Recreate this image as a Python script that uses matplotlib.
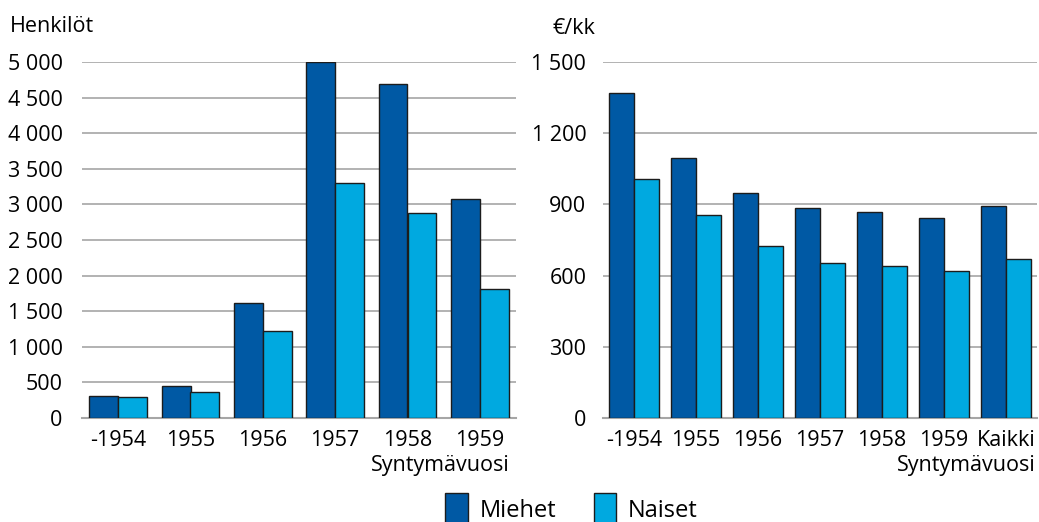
import numpy as np
import matplotlib
matplotlib.use("Agg")
import matplotlib.pyplot as plt
from matplotlib.ticker import FuncFormatter

plt.rcParams['font.family'] = ['Open Sans', 'DejaVu Sans']

# Henkilöt syntymävuosittain
vuodet_vasen = ["-1954", "1955", "1956", "1957", "1958", "1959"]
miehet_lkm = [305, 445, 1620, 4995, 4695, 3072]
naiset_lkm = [290, 370, 1218, 3305, 2875, 1808]

# Keskimääräinen eläke €/kk
vuodet_oikea = ["-1954", "1955", "1956", "1957", "1958", "1959", "Kaikki"]
miehet_eur = [1371, 1094, 946, 886, 870, 843, 894]
naiset_eur = [1005, 855, 724, 652, 639, 619, 671]

vasen_ticks = [0, 500, 1000, 1500, 2000, 2500, 3000, 3500, 4000, 4500, 5000]
oikea_ticks = [0, 300, 600, 900, 1200, 1500]

sininen = "#0059A4"
vaalea = "#00A9E0"
reuna = "#1c1c1c"
harmaa = "#a6a6a6"


def tuhat(x, pos):
    return f"{int(x):,}".replace(",", " ")


fig = plt.figure(figsize=(10.39, 5.22), dpi=100)
ax1 = fig.add_axes([82 / 1039, 104 / 522, 434 / 1039, 356 / 522])
ax2 = fig.add_axes([603 / 1039, 104 / 522, 434 / 1039, 356 / 522])


def piirra(ax, kat, m, n, ticks, pad_y):
    x = np.arange(len(kat))
    w = 0.4
    ax.bar(x - w / 2, m, w, color=sininen, edgecolor=reuna, linewidth=1, zorder=3, label="Miehet")
    ax.bar(x + w / 2, n, w, color=vaalea, edgecolor=reuna, linewidth=1, zorder=3, label="Naiset")
    ax.set_xlim(-0.5, len(kat) - 0.5)
    ax.set_ylim(0, ticks[-1])
    ax.set_yticks(ticks)
    ax.yaxis.set_major_formatter(FuncFormatter(tuhat))
    ax.set_xticks(x)
    ax.set_xticklabels(kat)
    ax.grid(axis="y", color=harmaa, linewidth=1.2, zorder=0)
    for s in ["top", "right", "left"]:
        ax.spines[s].set_visible(False)
    ax.spines["bottom"].set_color(harmaa)
    ax.spines["bottom"].set_linewidth(1.5)
    ax.tick_params(axis="both", length=0, labelsize=15.5, colors="#000000")
    ax.tick_params(axis="y", pad=pad_y)
    ax.tick_params(axis="x", pad=9)
    ax.set_axisbelow(True)


piirra(ax1, vuodet_vasen, miehet_lkm, naiset_lkm, vasen_ticks, 14)
piirra(ax2, vuodet_oikea, miehet_eur, naiset_eur, oikea_ticks, 12)

fig.text(10 / 1039, 1 - 26 / 522, "Henkilöt", fontsize=15.5, va="center", ha="left")
fig.text(574 / 1039, 1 - 28 / 522, "€/kk", fontsize=15.5, va="center", ha="center")
fig.text(510 / 1039, 1 - 465 / 522, "Syntymävuosi", fontsize=15.5, va="center", ha="right")
fig.text(1036 / 1039, 1 - 465 / 522, "Syntymävuosi", fontsize=15.5, va="center", ha="right")

h, l = ax1.get_legend_handles_labels()
fig.legend(h, l, loc="upper center", bbox_to_anchor=(0.55, 1 - 484 / 522), ncol=2,
           frameon=False, fontsize=17, handlelength=0.95, handleheight=1.7,
           handletextpad=0.5, columnspacing=1.6, borderaxespad=0)

fig.savefig("out.png", dpi=100)
